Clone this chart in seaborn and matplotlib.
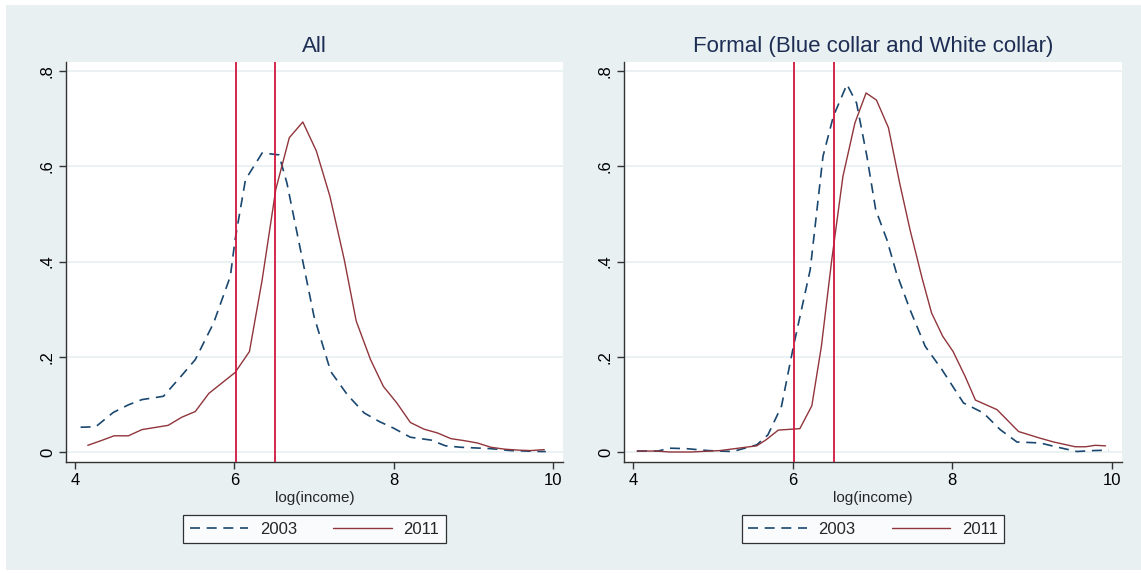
import matplotlib
matplotlib.use("Agg")
import matplotlib.pyplot as plt
from matplotlib.patches import Rectangle
import seaborn as sns
import pandas as pd

# ---------------- data ----------------
titles = ["All", "Formal (Blue collar and White collar)"]
series_names = ["2003", "2011"]

all_2003_x = [4.07, 4.26, 4.48, 4.67, 4.84, 5.11, 5.31, 5.51, 5.74, 5.95, 6.01, 6.14, 6.35,
              6.56, 6.66, 6.83, 7.00, 7.21, 7.42, 7.63, 7.82, 8.00, 8.21, 8.47, 8.65, 8.84,
              9.22, 9.47, 9.85, 9.91]
all_2003_y = [0.052, 0.053, 0.083, 0.099, 0.110, 0.117, 0.155, 0.194, 0.271, 0.369, 0.446,
              0.572, 0.628, 0.624, 0.565, 0.425, 0.285, 0.169, 0.120, 0.082, 0.064, 0.050,
              0.031, 0.025, 0.013, 0.010, 0.007, 0.003, 0.001, 0.001]

all_2011_x = [4.16, 4.33, 4.49, 4.67, 4.84, 5.17, 5.34, 5.51, 5.68, 6.01, 6.19, 6.35, 6.52,
              6.69, 6.86, 7.03, 7.20, 7.38, 7.53, 7.71, 7.87, 8.04, 8.21, 8.38, 8.55, 8.72,
              8.88, 9.05, 9.22, 9.39, 9.56, 9.72, 9.89]
all_2011_y = [0.014, 0.024, 0.034, 0.034, 0.047, 0.056, 0.073, 0.085, 0.123, 0.167, 0.211,
              0.362, 0.551, 0.660, 0.693, 0.632, 0.537, 0.404, 0.275, 0.194, 0.138, 0.103,
              0.062, 0.048, 0.040, 0.028, 0.024, 0.019, 0.010, 0.006, 0.004, 0.003, 0.005]

formal_2003_x = [4.05, 4.31, 4.46, 4.67, 4.94, 5.25, 5.55, 5.69, 5.86, 6.01, 6.22, 6.38,
                 6.51, 6.68, 6.80, 6.93, 7.04, 7.18, 7.30, 7.47, 7.66, 7.87, 8.14, 8.39,
                 8.60, 8.81, 9.10, 9.27, 9.56, 9.77, 9.96]
formal_2003_y = [0.002, 0.002, 0.008, 0.007, 0.003, 0.001, 0.015, 0.036, 0.096, 0.222, 0.383,
                 0.621, 0.705, 0.772, 0.733, 0.621, 0.509, 0.446, 0.376, 0.299, 0.222, 0.173,
                 0.103, 0.082, 0.047, 0.021, 0.019, 0.012, 0.001, 0.003, 0.004]

formal_2011_x = [4.05, 4.29, 4.46, 4.73, 5.09, 5.55, 5.67, 5.82, 6.09, 6.24, 6.36, 6.49,
                 6.63, 6.78, 6.92, 7.05, 7.20, 7.34, 7.47, 7.62, 7.74, 7.88, 8.01, 8.16,
                 8.29, 8.56, 8.83, 9.10, 9.27, 9.54, 9.67, 9.79, 9.92]
formal_2011_y = [0.002, 0.002, 0.000, 0.000, 0.003, 0.013, 0.026, 0.046, 0.049, 0.097, 0.222,
                 0.404, 0.579, 0.691, 0.754, 0.739, 0.681, 0.565, 0.467, 0.366, 0.292, 0.243,
                 0.211, 0.159, 0.109, 0.089, 0.043, 0.029, 0.021, 0.011, 0.011, 0.014, 0.013]

vlines_x = [6.015, 6.515]
x_ticks = [4, 6, 8, 10]
x_tick_labels = ["4", "6", "8", "10"]
y_ticks = [0, 0.2, 0.4, 0.6, 0.8]
y_tick_labels = ["0", ".2", ".4", ".6", ".8"]
x_label = "log(income)"

panels = [
    (all_2003_x, all_2003_y, all_2011_x, all_2011_y),
    (formal_2003_x, formal_2003_y, formal_2011_x, formal_2011_y),
]

# ---------------- style ----------------
sns.set_theme(style="white")
plt.rcParams["font.family"] = ["Liberation Sans", "DejaVu Sans"]

BG = "#E8F0F2"
NAVY = "#1A476F"
MAROON = "#90353B"
VRED = "#D2163E"
TITLE_C = "#1E2D53"

W, H = 1141, 573
fig = plt.figure(figsize=(W / 100, H / 100), dpi=100, facecolor="white")
fig.patches.append(Rectangle((6 / W, 3 / H), (W - 6) / W, (H - 8) / H,
                             transform=fig.transFigure, facecolor=BG,
                             edgecolor="none", zorder=-10))

axes_px = [(66, 563), (624, 1122)]
top_px, bot_px = 62, 462

for i, (ax_px, title, data) in enumerate(zip(axes_px, titles, panels)):
    l, r = ax_px
    ax = fig.add_axes([l / W, (H - bot_px) / H, (r - l) / W, (bot_px - top_px) / H])
    ax.set_facecolor("white")
    x03, y03, x11, y11 = data
    d03 = pd.DataFrame({"x": x03, "y": y03})
    d11 = pd.DataFrame({"x": x11, "y": y11})

    for yv in y_ticks:
        ax.axhline(yv, color=BG, lw=1.2, zorder=0)

    sns.lineplot(data=d03, x="x", y="y", ax=ax, color=NAVY, lw=1.2,
                 label=series_names[0], sort=False, estimator=None, zorder=3)
    ax.lines[-1].set_dashes((6, 4))
    sns.lineplot(data=d11, x="x", y="y", ax=ax, color=MAROON, lw=1.0,
                 label=series_names[1], sort=False, estimator=None, zorder=3)
    for xv in vlines_x:
        ax.axvline(xv, color=VRED, lw=1.3, zorder=4)

    ax.set_xlim(3.887, 10.126)
    ax.set_ylim(-0.021, 0.819)
    ax.set_xticks(x_ticks)
    ax.set_xticklabels(x_tick_labels, fontsize=12)
    ax.set_yticks(y_ticks)
    ax.set_yticklabels(y_tick_labels, fontsize=12, rotation=90, va="center")
    ax.tick_params(axis="both", direction="out", length=5, width=1, color="#333333",
                   labelcolor="black", pad=3, left=True, bottom=True)
    for s in ["top", "right"]:
        ax.spines[s].set_visible(False)
    for s in ["left", "bottom"]:
        ax.spines[s].set_color("#333333")
        ax.spines[s].set_linewidth(1.0)
    ax.set_xlabel(x_label, fontsize=11, labelpad=2)
    ax.set_ylabel("")
    ax.set_title(title, fontsize=16, color=TITLE_C, pad=7)

    leg = ax.legend(loc="center", bbox_to_anchor=(0.5, -0.1675), ncol=2,
                    fontsize=12, frameon=True, fancybox=False, handlelength=3.5,
                    handletextpad=0.7, columnspacing=2.2, borderpad=0.38,
                    borderaxespad=0)
    leg.get_frame().set_edgecolor("black")
    leg.get_frame().set_linewidth(0.9)
    leg.get_frame().set_facecolor("white")

fig.savefig("out.png", dpi=100, facecolor=fig.get_facecolor())
